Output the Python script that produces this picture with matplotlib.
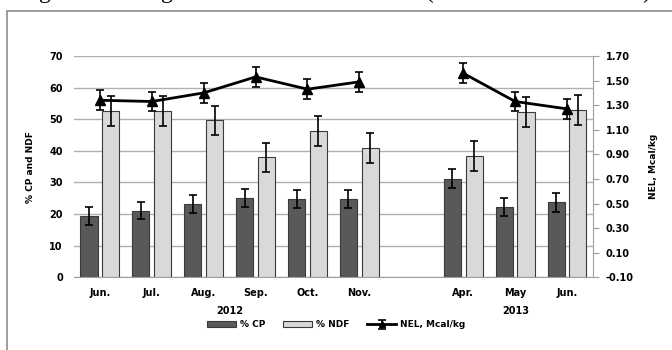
import numpy as np
import matplotlib.pyplot as plt
from matplotlib.patches import Rectangle

# slot 6 is an empty gap between 2012 and 2013
months = ['Jun.', 'Jul.', 'Aug.', 'Sep.', 'Oct.', 'Nov.', '', 'Apr.', 'May', 'Jun.']
cp = [19.5, 21.1, 23.1, 25.0, 24.7, 24.7, np.nan, 31.1, 22.2, 23.7]
cp_err = [2.8, 2.7, 2.9, 2.8, 2.8, 2.8, np.nan, 3.0, 2.8, 2.9]
ndf = [52.7, 52.7, 49.6, 37.9, 46.2, 40.8, np.nan, 38.3, 52.4, 53.0]
ndf_err = [4.7, 4.7, 4.7, 4.7, 4.7, 4.7, np.nan, 4.7, 4.7, 4.7]
nel = [1.34, 1.33, 1.40, 1.53, 1.43, 1.49, np.nan, 1.56, 1.33, 1.27]
nel_err = [0.08, 0.08, 0.08, 0.08, 0.08, 0.08, np.nan, 0.08, 0.08, 0.08]
years = ['2012', '2013']

x = np.arange(len(months))
w = 0.33
bold = dict(fontweight='bold', fontsize=7)

fig = plt.figure(figsize=(6.72, 3.5), dpi=100)
ax = fig.add_axes([0.110, 0.2077, 0.7724, 0.6323])

# bars with error bars
ax.bar(x - 0.21, cp, w, color='#595959', edgecolor='#3a3a3a', linewidth=0.8, zorder=2, label='% CP')
ax.bar(x + 0.21, ndf, w, color='#d9d9d9', edgecolor='#3a3a3a', linewidth=0.8, zorder=2, label='% NDF')
ax.errorbar(x - 0.21, cp, yerr=cp_err, fmt='none', ecolor='black', elinewidth=1.2, capsize=3, capthick=1.2, zorder=3)
ax.errorbar(x + 0.21, ndf, yerr=ndf_err, fmt='none', ecolor='black', elinewidth=1.2, capsize=3, capthick=1.2, zorder=3)

ax.set_xlim(-0.5, len(months) - 0.5)
ax.set_ylim(0, 70)
ax.set_yticks(range(0, 71, 10))
ax.set_xticks(x)
ax.set_xticklabels(months, **bold)
for lab in ax.get_yticklabels():
    lab.set_fontweight('bold')
    lab.set_fontsize(7)
ax.tick_params(axis='both', length=0, pad=8)
ax.yaxis.grid(True, color='#b0b0b0', linewidth=1)
ax.set_axisbelow(True)
for s in ['left', 'top', 'right']:
    ax.spines[s].set_visible(False)
ax.spines['bottom'].set_color('#a0a0a0')
ax.set_ylabel('% CP and NDF', fontsize=6.5, fontweight='bold', labelpad=10)

# NEL on secondary axis
ax2 = ax.twinx()
ax2.errorbar(x, nel, yerr=nel_err, color='black', linewidth=2, marker='^', markersize=7,
             ecolor='black', elinewidth=1.2, capsize=3, capthick=1.2, zorder=4, label='NEL, Mcal/kg')
ax2.set_ylim(-0.1, 1.7)
ax2.set_yticks(np.arange(-0.1, 1.71, 0.2))
ax2.set_yticklabels([f'{v:.2f}' for v in np.arange(-0.1, 1.71, 0.2)], **bold)
ax2.tick_params(axis='y', length=4, color='#a0a0a0', pad=5)
for s in ['left', 'top', 'bottom']:
    ax2.spines[s].set_visible(False)
ax2.spines['right'].set_color('#a0a0a0')
ax2.set_ylabel('NEL, Mcal/kg', fontsize=6.5, fontweight='bold', labelpad=11)

# year labels
fig.text(0.342, 0.112, years[0], ha='center', va='center', **bold)
fig.text(0.768, 0.112, years[1], ha='center', va='center', **bold)

# legend
h1, l1 = ax.get_legend_handles_labels()
h2, l2 = ax2.get_legend_handles_labels()
fig.legend(h1 + h2, l1 + l2, loc='center', bbox_to_anchor=(0.5, 0.072), ncol=3, frameon=False,
           prop=dict(weight='bold', size=6.5), handlelength=3.2, columnspacing=2, handletextpad=0.4,
           markerscale=0.6)

# outer frame of the chart area
fig.add_artist(Rectangle((7 / 672, -0.1), 1.2, 1 - 11 / 350 + 0.1, transform=fig.transFigure,
                         fill=False, edgecolor='#8c8c8c', linewidth=1.2))

# clipped caption from above the chart: only descenders are visible
for xp, ch in [(45, 'g'), (167, 'g'), (430, '('), (646, ')')]:
    fig.text(xp / 672, 1 + 2 / 350, ch, family='Liberation Serif', fontsize=17, ha='center', va='baseline')

fig.savefig('out.png', dpi=100)
